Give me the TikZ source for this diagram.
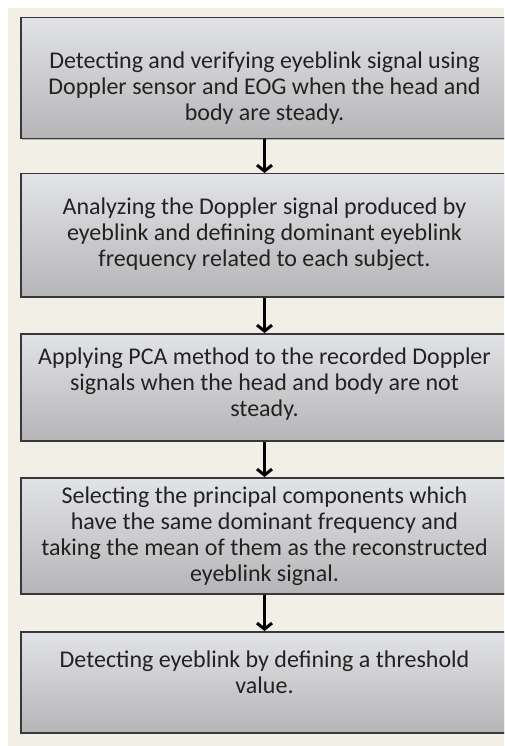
\documentclass[tikz,border=0pt]{standalone}
\usepackage{fontspec}
\setmainfont{Carlito}
\usetikzlibrary{arrows.meta,shadows}
\definecolor{cream}{HTML}{F2EFE6}
\definecolor{boxtop}{HTML}{E2E3E6}
\definecolor{boxbot}{HTML}{B5B5B7}
\definecolor{ink}{HTML}{222222}
\begin{document}
\begin{tikzpicture}[x=1pt,y=-1pt,
  stepbox/.style={draw=black!78, line width=1.5pt, top color=boxtop, bottom color=boxbot,
    minimum width=487pt, inner sep=0pt, anchor=north,
    drop shadow={shadow xshift=0.8pt, shadow yshift=-1.3pt, fill=black!50, opacity=0.5}},
  steptext/.style={align=center, font=\fontsize{24}{26}\selectfont, text=ink, inner sep=0pt},
  flow/.style={line width=3pt, draw=black, -{Straight Barb[length=6pt, width=15pt, line width=3pt]}}]
\useasboundingbox (0,0) rectangle (504,746);
\fill[white] (0,0) rectangle (504,746);
\fill[cream] (8,8) rectangle (504,746);
\begin{scope}
\clip (0,0) rectangle (504,746);
\node[stepbox, minimum height=121pt] (b1) at (264.5,17) {};
\node[stepbox, minimum height=123pt] (b2) at (264.5,173) {};
\node[stepbox, minimum height=107pt] (b3) at (264.5,333) {};
\node[stepbox, minimum height=116pt] (b4) at (264.5,477) {};
\node[stepbox, minimum height=101pt] (b5) at (264.5,631) {};

\node[steptext] (t1) at (264.5,88) {Detecting and verifying eyeblink signal using\\Doppler sensor and EOG when the head and\\body are steady.};
\node[steptext] (t2) at (264.5,234) {Analyzing the Doppler signal produced by\\eyeblink and defining dominant eyeblink\\frequency related to each subject.};
\node[steptext] (t3) at (264.5,384) {Applying PCA method to the recorded Doppler\\signals when the head and body are not\\steady.};
\node[steptext] (t4) at (264.5,536) {Selecting the principal components which\\have the same dominant frequency and\\taking the mean of them as the reconstructed\\eyeblink signal.};
\node[steptext] (t5) at (264.5,672) {Detecting eyeblink by defining a threshold\\value.};

\draw[flow] (b1.south) -- (b2.north);
\draw[flow] (b2.south) -- (b3.north);
\draw[flow] (b3.south) -- (b4.north);
\draw[flow] (b4.south) -- (b5.north);
\end{scope}
\end{tikzpicture}
\end{document}
